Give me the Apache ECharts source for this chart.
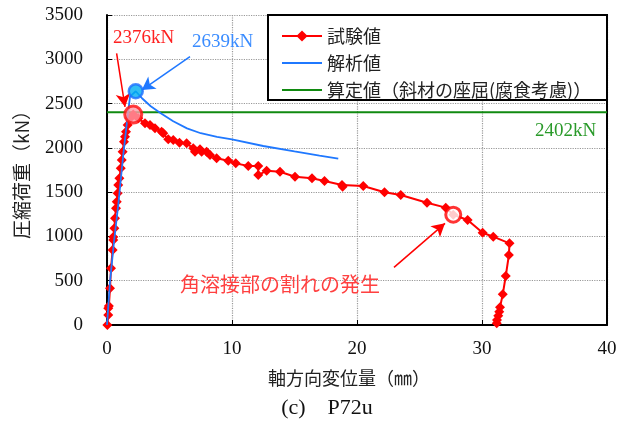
<!DOCTYPE html>
<html>
<head>
<meta charset="utf-8">
<script src="https://cdn.jsdelivr.net/npm/echarts@6/dist/echarts.min.js"></script>
<style>
html, body { margin: 0; padding: 0; background: #fff; }
#chart { width: 629px; height: 429px; }
</style>
</head>
<body>
<div id="chart"></div>
<script>
// 試験値 (mm, kN)
var testDisp = [0.03, 0.1, 0.1, 0.15, 0.24, 0.32, 0.45, 0.5, 0.5, 0.59, 0.64, 0.72, 0.78, 0.85, 0.9, 0.99,
  1.1, 1.18, 1.25, 1.36, 1.44, 1.52, 1.65, 1.84, 2.1, 2.5, 3.04, 3.44, 3.84, 4.37, 4.5, 4.9, 5.3, 5.8,
  6.37, 6.9, 7.04, 7.44, 7.57, 7.97, 8.24, 8.77, 9.7, 10.3, 11.3, 12.1, 12.1, 12.77, 13.84, 15.04,
  16.4, 17.4, 18.8, 18.85, 20.5, 22.2, 23.5, 25.6, 27.1, 27.7, 28.85, 30.05, 30.9, 32.2, 32.15, 31.9,
  31.66, 31.44, 31.38, 31.3, 31.2, 31.18];
var testLoad = [0, 113, 188, 215, 414, 640, 847, 960, 993, 1092, 1205, 1318, 1392, 1487, 1581, 1656,
  1769, 1863, 1957, 2070, 2126, 2183, 2258, 2334, 2376, 2333, 2277, 2258, 2220, 2183, 2164, 2096, 2089, 2058,
  2051, 1995, 1957, 1984, 1957, 1957, 1919, 1882, 1855, 1825, 1795, 1795, 1693, 1742, 1731, 1674,
  1656, 1626, 1581, 1560, 1569, 1498, 1468, 1381, 1325, 1245, 1185, 1042, 997, 922, 790, 553,
  346, 200, 150, 105, 56, 19];

// 解析値
var anaDisp = [0, 0.24, 0.56, 0.9, 1.3, 1.57, 1.84, 2.3, 2.8, 3.5, 4.3, 5.3, 6.4, 7.5, 8.8, 10.0, 12.5, 15.0, 17.0, 18.5];
var anaLoad = [0, 489, 940, 1355, 1919, 2258, 2578, 2639, 2560, 2470, 2390, 2300, 2220, 2165, 2125, 2095, 2021, 1960, 1912, 1878];

// 算定値
var calcLoad = 2402;

// 注目点
var testPeak = [2.1, 2376];
var anaPeak = [2.3, 2639];
var crackPoint = [27.7, 1245];

// 矢印 (from -> to)
var arrowTestPeak = [[0.77, 3067], [1.44, 2464]];
var arrowAnaPeak = [[6.64, 3029], [2.78, 2653]];
var arrowCrack = [[22.96, 651], [27.04, 1148]];

var names = ['試験値', '解析値', '算定値（斜材の座屈(腐食考慮)）'];

function zip(a, b) {
  return a.map(function (v, i) { return [v, b[i]]; });
}

var numFont = 'Liberation Serif';
var jpFont = 'Noto Sans CJK JP';

function arrow(pts, color) {
  return [{ coord: pts[0], lineStyle: { color: color } }, { coord: pts[1] }];
}

var myChart = echarts.init(document.getElementById('chart'), null, { renderer: 'canvas' });
var option = {
  animation: false,
  backgroundColor: '#fff',
  grid: { left: 107, right: 22, top: 15, bottom: 104 },
  legend: {
    data: [
      { name: names[0] },
      { name: names[1], itemStyle: { opacity: 0 } },
      { name: names[2], itemStyle: { opacity: 0 } }
    ],
    orient: 'vertical',
    left: 276,
    top: 22,
    itemWidth: 40,
    itemHeight: 14,
    itemGap: 9,
    z: 20,
    textStyle: { fontFamily: jpFont, fontSize: 18, color: '#222' }
  },
  xAxis: {
    type: 'value',
    min: 0, max: 40, interval: 10,
    axisLine: { lineStyle: { color: '#000', width: 2 } },
    axisTick: { inside: true, length: 5, lineStyle: { color: '#000' } },
    axisLabel: { margin: 15, fontFamily: numFont, fontSize: 19, color: '#111' },
    splitLine: { lineStyle: { color: '#999', type: 'dotted', width: 1.2 } }
  },
  yAxis: [{
    type: 'value',
    min: 0, max: 3500, interval: 500,
    axisLine: { show: true, lineStyle: { color: '#000', width: 2 } },
    axisTick: { show: true, inside: true, length: 5, lineStyle: { color: '#000' } },
    axisLabel: { margin: 24, fontFamily: numFont, fontSize: 19, color: '#111',
      formatter: function (v) { return String(v); } },
    splitLine: { lineStyle: { color: '#999', type: 'dotted', width: 1.2 } }
  }, {
    type: 'value',
    position: 'right',
    min: 0, max: 3500, interval: 500,
    axisLine: { show: true, lineStyle: { color: '#000', width: 2 } },
    axisTick: { show: false },
    axisLabel: { show: false },
    splitLine: { show: false }
  }],
  series: [{
    name: names[0],
    type: 'line',
    data: zip(testDisp, testLoad),
    symbol: 'diamond',
    symbolSize: 10,
    itemStyle: { color: '#ff0000' },
    lineStyle: { color: '#ff0000', width: 2 },
    z: 3
  }, {
    name: names[1],
    type: 'line',
    data: zip(anaDisp, anaLoad),
    symbol: 'none',
    itemStyle: { color: '#1f78ff' },
    lineStyle: { color: '#1f78ff', width: 1.8 },
    z: 4
  }, {
    name: names[2],
    type: 'line',
    data: [[0, calcLoad], [40, calcLoad]],
    symbol: 'none',
    itemStyle: { color: '#108a10' },
    lineStyle: { color: '#108a10', width: 1.8 },
    z: 2
  }, {
    name: 'marks',
    type: 'scatter',
    z: 6,
    data: [
      { value: testPeak, symbolSize: 17, itemStyle: { color: '#ff9aa6', borderColor: '#ff1010', borderWidth: 3 } },
      { value: anaPeak, symbolSize: 14, itemStyle: { color: '#00aef0', borderColor: '#1f6fff', borderWidth: 2.5 } },
      { value: crackPoint, symbolSize: 15, itemStyle: { color: '#fff', borderColor: '#ff0000', borderWidth: 3 } }
    ],
    markLine: {
      silent: true,
      symbol: ['none', 'arrow'],
      symbolSize: [11, 13],
      label: { show: false },
      lineStyle: { type: 'solid', width: 1.5 },
      data: [
        arrow(arrowTestPeak, '#ff0000'),
        arrow(arrowAnaPeak, '#1f78ff'),
        arrow(arrowCrack, '#ff0000')
      ]
    }
  }],
  graphic: [
    { type: 'rect', z: 10, shape: { x: 268, y: 15, width: 339, height: 85 },
      style: { fill: '#fff', stroke: '#000', lineWidth: 2 } },
    { type: 'text', z: 12, x: 113, y: 38,
      style: { text: '2376kN', fill: '#ff2020', font: '19px "Liberation Serif"', textVerticalAlign: 'middle' } },
    { type: 'text', z: 12, x: 192, y: 42,
      style: { text: '2639kN', fill: '#3a8cff', font: '19px "Liberation Serif"', textVerticalAlign: 'middle' } },
    { type: 'text', z: 12, x: 535, y: 131,
      style: { text: '2402kN', fill: '#2a9a2a', font: '19px "Liberation Serif"', textVerticalAlign: 'middle' } },
    { type: 'text', z: 12, x: 180, y: 284,
      style: { text: '角溶接部の割れの発生', fill: '#ff4040', font: '20px "Noto Sans CJK JP"', textVerticalAlign: 'middle' } },
    { type: 'text', z: 12, x: 22, y: 170, rotation: Math.PI / 2,
      style: { text: '圧縮荷重（kN）', fill: '#222', font: '19px "Noto Sans CJK JP"', textAlign: 'center', textVerticalAlign: 'middle' } },
    { type: 'text', z: 12, x: 349, y: 378,
      style: { text: '軸方向変位量（㎜）', fill: '#222', font: '18px "Noto Sans CJK JP"', textAlign: 'center', textVerticalAlign: 'middle' } },
    { type: 'text', z: 12, x: 327, y: 408,
      style: { text: '(c)　P72u', fill: '#111', font: '22px "Liberation Serif"', textAlign: 'center', textVerticalAlign: 'middle' } }
  ]
};
myChart.setOption(option);
</script>
</body>
</html>
